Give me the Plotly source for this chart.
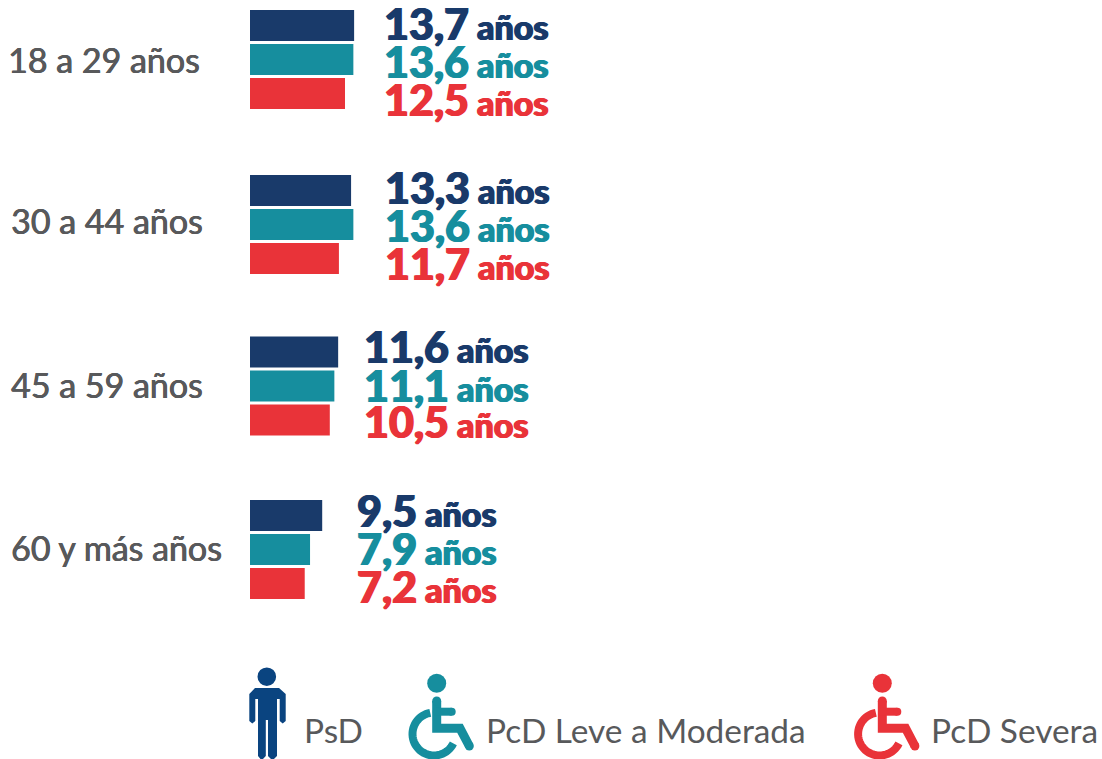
import math
import plotly.graph_objects as go

age_groups = ["18 a 29 años", "30 a 44 años", "45 a 59 años", "60 y más años"]
series_names = ["PsD", "PcD Leve a Moderada", "PcD Severa"]
psd = [13.7, 13.3, 11.6, 9.5]
leve = [13.6, 13.6, 11.1, 7.9]
severa = [12.5, 11.7, 10.5, 7.2]
unit = "años"

NAVY, TEAL, RED = "#193a6a", "#168e9e", "#e93339"
GRAY = "#58595b"
ICON_BLUE = "#0a4480"
W, H = 1102, 759
series = [psd, leve, severa]
colors = [NAVY, TEAL, RED]

def X(p): return p / W
def Y(p): return 1 - p / H

fig = go.Figure()
group_tops = [8.5, 173.5, 335, 498.5]
group_h = 102
for g, top in enumerate(group_tops):
    suffix = "" if g == 0 else str(g + 1)
    fig.add_trace(go.Bar(
        y=series_names, x=[s[g] for s in series], orientation="h",
        width=0.91, marker=dict(color=colors, line=dict(width=0)),
        xaxis="x", yaxis="y" + suffix, showlegend=False, hoverinfo="skip"))
    fig.layout["yaxis" + suffix] = dict(
        domain=[Y(top + group_h), Y(top)], type="category", autorange=False,
        range=[2.5, -0.5], visible=False, anchor="x",
        categoryorder="array", categoryarray=series_names)

annos = []
label_x = [6, 9, 9, 9]
label_y = [59.5, 220.5, 384.5, 547.5]
value_x = [381.5, 382.5, 361.5, 355]
value_y = [[23.5, 61.5, 99.5], [187, 225, 263.5], [347, 385, 421.5], [510, 548, 586.5]]
for g, name in enumerate(age_groups):
    annos.append(dict(text=name, x=X(label_x[g]), y=Y(label_y[g]), xref="paper", yref="paper",
                      xanchor="left", yanchor="middle", showarrow=False,
                      font=dict(family="Lato", size=34, color=GRAY, weight=400,
                                shadow=f"0.5px 0 0 {GRAY}, -0.3px 0 0 {GRAY}")))
    for s in range(3):
        v = f"{series[s][g]:.1f}".replace(".", ",")
        annos.append(dict(
            text=f'{v}<span style="font-size:34px"> {unit}</span>',
            x=X(value_x[g]), y=Y(value_y[g][s]), xref="paper", yref="paper",
            xanchor="left", yanchor="middle", showarrow=False,
            font=dict(family="Lato", size=43, color=colors[s], weight=900,
                      shadow=f"0.8px 0 0 {colors[s]}, -0.8px 0 0 {colors[s]}")))

legend_x = [302, 484, 929]
for i, name in enumerate(series_names):
    annos.append(dict(text=name, x=X(legend_x[i]), y=Y(730), xref="paper", yref="paper",
                      xanchor="left", yanchor="middle", showarrow=False,
                      font=dict(family="Lato", size=33.4, color=GRAY, weight=400)))

shapes = []
def circle(cx, cy, r, color):
    shapes.append(dict(type="circle", xref="paper", yref="paper",
                       x0=X(cx - r), x1=X(cx + r), y0=Y(cy + r), y1=Y(cy - r),
                       fillcolor=color, line=dict(width=0), layer="above"))
def stroke(pts, w, color):
    path = "M " + " L ".join(f"{X(a):.5f},{Y(b):.5f}" for a, b in pts)
    shapes.append(dict(type="path", path=path, xref="paper", yref="paper",
                       line=dict(color=color, width=w), layer="above"))
    for a, b in (pts[0], pts[-1]):
        circle(a, b, w / 2, color)

def wheelchair(dx, color):
    circle(436.7 + dx, 683.3, 9.5, color)
    stroke([(436.7 + dx, 701), (436.7 + dx, 728.3), (460 + dx, 728.3), (469.3 + dx, 746)], 9, color)
    stroke([(436.7 + dx, 711.7), (451.7 + dx, 711.7)], 8, color)
    arc = []
    for k in range(41):
        a = math.radians(100 + k / 40 * 234)
        arc.append((434 + dx + 21.5 * math.cos(a), 734 - 21.5 * math.sin(a)))
    path = "M " + " L ".join(f"{X(a):.5f},{Y(b):.5f}" for a, b in arc)
    shapes.append(dict(type="path", path=path, xref="paper", yref="paper",
                       line=dict(color=color, width=8), layer="above"))

# person icon
circle(266.8, 676.7, 9.3, ICON_BLUE)
body = [(255, 688), (279, 688), (285.7, 694), (285.7, 721), (282.7, 723.5), (279.7, 721), (279.7, 699),
        (277, 699), (277, 756), (274, 759), (271, 759), (268, 756), (268, 720), (265.8, 720), (265.8, 756),
        (263, 759), (260.5, 759), (258, 756), (258, 699), (255.3, 699), (255.3, 721), (252.3, 723.5),
        (249.3, 721), (249.3, 694)]
shapes.append(dict(type="path", xref="paper", yref="paper", layer="above",
                   path="M " + " L ".join(f"{X(a):.5f},{Y(b):.5f}" for a, b in body) + " Z",
                   fillcolor=ICON_BLUE, line=dict(width=0)))
wheelchair(0, TEAL)
wheelchair(445.6, RED)

fig.update_layout(
    width=W, height=H, margin=dict(l=0, r=0, t=0, b=0),
    paper_bgcolor="white", plot_bgcolor="white",
    xaxis=dict(domain=[250 / W, 1], range=[0, (W - 250) / 7.6], visible=False, anchor="y"),
    annotations=annos, shapes=shapes)

fig.write_html("out.html", config={"displayModeBar": False},
               post_script="document.body.style.margin='0';document.body.style.overflow='hidden';")
